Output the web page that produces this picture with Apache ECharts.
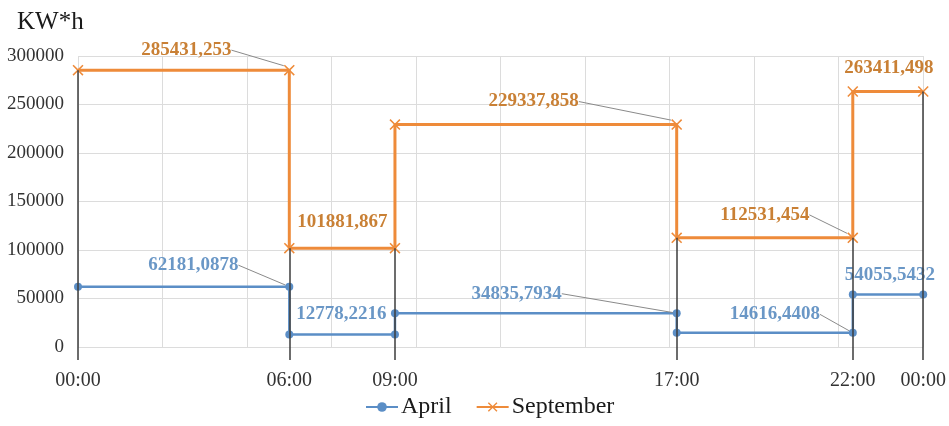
<!DOCTYPE html>
<html>
<head>
<meta charset="utf-8">
<script src="https://cdn.jsdelivr.net/npm/echarts@6/dist/echarts.min.js"></script>
<style>
  html, body { margin: 0; padding: 0; background: #fff; }
  #chart { width: 949px; height: 426px; }
</style>
</head>
<body>
<div id="chart"></div>
<script>
// Tariff period boundaries (hours of the day) and their axis labels
const hours = [0, 6, 9, 17, 22, 24];
const hourLabels = ['00:00', '06:00', '09:00', '17:00', '22:00', '00:00'];

// Energy per tariff period, KW*h
const aprilValues = [62181.0878, 12778.2216, 34835.7934, 14616.4408, 54055.5432];
const septemberValues = [285431.253, 101881.867, 229337.858, 112531.454, 263411.498];

// Y axis range
const yMin = 0, yMax = 300000, yStep = 50000;

// Label placement per period: which end of the step carries the label,
// pixel shift from the default 'top' position, and whether a leader line is drawn
const septemberLabelPlace = [
  { end: 1, dx: -103, dy: 0, leader: true },
  { end: 0, dx: 53, dy: -6, leader: false },
  { end: 1, dx: -143, dy: -3, leader: true },
  { end: 1, dx: -88, dy: -3, leader: true },
  { end: 0, dx: 36, dy: -3, leader: false }
];
const aprilLabelPlace = [
  { end: 1, dx: -96, dy: -3, leader: true },
  { end: 0, dx: 52, dy: -2, leader: false },
  { end: 1, dx: -160, dy: -1, leader: true },
  { end: 1, dx: -78, dy: 0, leader: true },
  { end: 0, dx: 37, dy: -1, leader: false }
];

const BLUE = '#5b8ec6';
const ORANGE = '#ee8b3a';
const BLUE_TEXT = '#6a97c6';
const ORANGE_TEXT = '#c98035';
const FONT = '"Liberation Serif", "Times New Roman", serif';

const fmt = v => String(v).replace('.', ',');

// Build step points (start and end of each period) with labels on chosen ends
function stepData(values, places, textColor) {
  const out = [];
  values.forEach((v, i) => {
    [0, 1].forEach(end => {
      const item = { value: [hours[i + end], v] };
      const p = places[i];
      if (p.end === end) {
        item.label = { show: true, color: textColor };
        item.labelLine = { show: p.leader };
      }
      out.push(item);
    });
  });
  return out;
}

function layoutFor(places) {
  return params => {
    const idx = params.dataIndex;
    const period = Math.floor(idx / 2);
    const p = places[period];
    if (!p || p.end !== idx % 2) return {};
    return { dx: p.dx, dy: p.dy };
  };
}

// Drop lines at every boundary, from the lower September point down to the axis
const dropLines = hours.map((h, k) => {
  const here = [septemberValues[k - 1], septemberValues[k]].filter(v => v !== undefined);
  return [{ coord: [h, yMin] }, { coord: [h, Math.min(...here)] }];
});

const crossPath = 'path://M1,0L5,4L9,0L10,1L6,5L10,9L9,10L5,6L1,10L0,9L4,5L0,1Z';

const chart = echarts.init(document.getElementById('chart'), null, { renderer: 'canvas' });
chart.setOption({
  animation: false,
  backgroundColor: '#fff',
  textStyle: { fontFamily: FONT },
  title: {
    text: 'KW*h',
    left: 12, top: 5,
    textStyle: { fontFamily: FONT, fontSize: 25, fontWeight: 'normal', color: '#1a1a1a' }
  },
  grid: { left: 78, right: 24, top: 56, bottom: 79, containLabel: false },
  legend: {
    data: ['April', 'September'],
    left: 360, top: 390,
    itemWidth: 32, itemHeight: 12, itemGap: 24,
    textStyle: { fontFamily: FONT, fontSize: 24, color: '#1a1a1a', padding: [0, 0, 0, -2] }
  },
  xAxis: [
    {
      type: 'value', min: 0, max: 24, interval: 2.4,
      axisLine: { show: false }, axisTick: { show: false }, axisLabel: { show: false },
      splitLine: { show: true, lineStyle: { color: '#dcdcdc', width: 1 } }
    },
    {
      type: 'value', min: 0, max: 24, position: 'bottom',
      axisLine: { show: false },
      splitLine: { show: false },
      axisTick: {
        show: true, customValues: hours, length: 13,
        lineStyle: { color: '#3c3c3c', width: 1.5 }
      },
      axisLabel: {
        customValues: hours, margin: 24,
        fontFamily: FONT, fontSize: 20, color: '#333',
        formatter: v => hourLabels[hours.indexOf(v)]
      }
    }
  ],
  yAxis: {
    type: 'value', min: yMin, max: yMax, interval: yStep,
    axisLine: { show: false }, axisTick: { show: false },
    axisLabel: { fontFamily: FONT, fontSize: 19, color: '#333', margin: 14, formatter: v => String(v) },
    splitLine: { lineStyle: { color: '#dcdcdc', width: 1 } }
  },
  series: [
    {
      name: 'drop', type: 'line', data: [], z: 1, silent: true,
      markLine: {
        silent: true, symbol: 'none', animation: false,
        label: { show: false },
        lineStyle: { color: '#3c3c3c', width: 1.5, type: 'solid' },
        emphasis: { disabled: true },
        data: dropLines
      }
    },
    {
      name: 'April', type: 'line', z: 3,
      data: stepData(aprilValues, aprilLabelPlace, BLUE_TEXT),
      color: BLUE,
      lineStyle: { color: BLUE, width: 2.5 },
      symbol: 'circle', symbolSize: 8,
      itemStyle: { color: BLUE },
      label: {
        show: false, position: 'top', distance: 5,
        fontFamily: FONT, fontSize: 19, fontWeight: 'bold',
        formatter: p => fmt(p.value[1])
      },
      labelLine: { show: false, lineStyle: { color: '#8a8a8a', width: 1 } },
      labelLayout: layoutFor(aprilLabelPlace)
    },
    {
      name: 'September', type: 'line', z: 4,
      data: stepData(septemberValues, septemberLabelPlace, ORANGE_TEXT),
      color: ORANGE,
      lineStyle: { color: ORANGE, width: 3 },
      symbol: crossPath, symbolSize: 11,
      itemStyle: { color: ORANGE },
      label: {
        show: false, position: 'top', distance: 5,
        fontFamily: FONT, fontSize: 19, fontWeight: 'bold',
        formatter: p => fmt(p.value[1])
      },
      labelLine: { show: false, lineStyle: { color: '#8a8a8a', width: 1 } },
      labelLayout: layoutFor(septemberLabelPlace)
    }
  ]
});
</script>
</body>
</html>
